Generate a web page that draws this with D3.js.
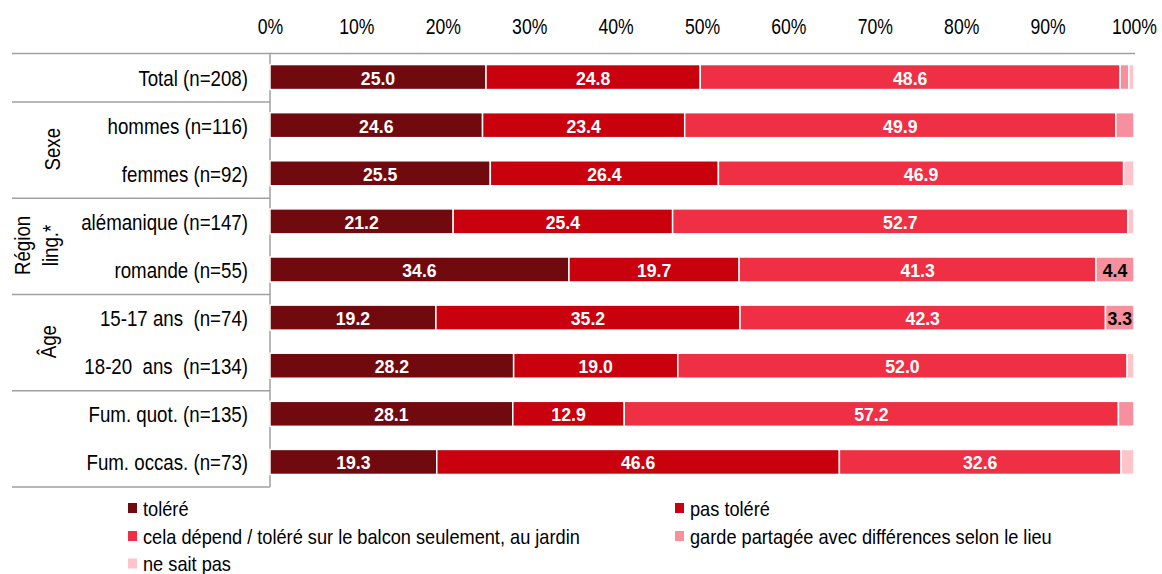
<!DOCTYPE html>
<html>
<head>
<meta charset="utf-8">
<script src="https://cdn.jsdelivr.net/npm/d3@7"></script>
<style>
  body { margin: 0; background: #fff; }
  text { font-family: "Liberation Sans", Arial, sans-serif; }
</style>
</head>
<body>
<div id="chart"></div>
<script>
var svgWidth = 1162;
var svgHeight = 574;

// categories (rows) and series values, in %
var categories = ["Total (n=208)", "hommes (n=116)", "femmes (n=92)", "alémanique (n=147)", "romande (n=55)",
  "15-17 ans  (n=74)", "18-20  ans  (n=134)", "Fum. quot. (n=135)", "Fum. occas. (n=73)"];
var tolere     = [25.0, 24.6, 25.5, 21.2, 34.6, 19.2, 28.2, 28.1, 19.3];
var pasTolere  = [24.8, 23.4, 26.4, 25.4, 19.7, 35.2, 19.0, 12.9, 46.6];
var celaDepend = [48.6, 49.9, 46.9, 52.7, 41.3, 42.3, 52.0, 57.2, 32.6];
var garde      = [1.0, 2.1, 0.0, 0.0, 4.4, 3.3, 0.0, 1.8, 0.0];
var neSaitPas  = [0.6, 0.0, 1.2, 0.7, 0.0, 0.0, 0.8, 0.0, 1.5];

var seriesNames = ["toléré", "pas toléré", "cela dépend / toléré sur le balcon seulement, au jardin",
  "garde partagée avec différences selon le lieu", "ne sait pas"];
var colors = ["#700a0f", "#c9000e", "#ef2f44", "#f7909c", "#fdc4ca"];
var tickValues = [0, 10, 20, 30, 40, 50, 60, 70, 80, 90, 100];

// row groups: label lines, first row, last row
var groups = [
  { lines: ["Sexe"], from: 1, to: 2, x: [60] },
  { lines: ["Région", "ling.*"], from: 3, to: 4, x: [30, 58] },
  { lines: ["Âge"], from: 5, to: 6, x: [56] }
];

var keys = ["tolere", "pasTolere", "celaDepend", "garde", "neSaitPas"];
var allSeries = [tolere, pasTolere, celaDepend, garde, neSaitPas];
var rows = categories.map(function(c, i) {
  var r = { cat: c };
  keys.forEach(function(k, j) { r[k] = allSeries[j][i]; });
  return r;
});

var stack = d3.stack().keys(keys)(rows);

var svg = d3.select("#chart").append("svg")
  .attr("width", svgWidth)
  .attr("height", svgHeight);

var x = d3.scaleLinear().domain([0, 100]).range([270, 1134]);
var y = d3.scaleBand().domain(categories).range([53, 486]).paddingInner(0.48).paddingOuter(0.24);

// top axis (condensed text, like Arial Narrow)
var xAxis = svg.append("g")
  .attr("transform", "translate(0, 34)")
  .call(d3.axisTop(x).tickValues(tickValues).tickFormat(d => d + "%").tickSize(0).tickPadding(0));
xAxis.select(".domain").remove();
xAxis.selectAll("text")
  .style("font-size", "22px")
  .attr("fill", "#000")
  .attr("y", 0)
  .attr("dy", 0)
  .attr("transform", "scale(0.8,1)");

// frame lines
var lineColor = "#a0a0a0";
svg.append("line")
  .attr("x1", 12).attr("x2", 1135).attr("y1", 53.5).attr("y2", 53.5)
  .attr("stroke", lineColor).attr("stroke-width", 1.5);
svg.append("line")
  .attr("x1", 270).attr("x2", 270).attr("y1", 53).attr("y2", 487)
  .attr("stroke", lineColor).attr("stroke-width", 1.5);

var sepIndex = [0, 2, 4, 6, 8];
svg.selectAll(".sep")
  .data(sepIndex)
  .enter()
  .append("line")
  .attr("class", "sep")
  .attr("x1", 12).attr("x2", 270)
  .attr("y1", d => y(categories[d]) + y.bandwidth() + y.step() * 0.26)
  .attr("y2", d => y(categories[d]) + y.bandwidth() + y.step() * 0.26)
  .attr("stroke", lineColor).attr("stroke-width", 1.5);

// category labels
svg.selectAll(".cat")
  .data(categories)
  .enter()
  .append("text")
  .attr("class", "cat")
  .attr("transform", d => `translate(248, ${y(d) + y.bandwidth() / 2 + 8.5}) scale(0.85,1)`)
  .attr("text-anchor", "end")
  .style("font-size", "22px")
  .style("white-space", "pre")
  .text(d => d);

// group labels (rotated)
groups.forEach(function(g) {
  var cy = (y(categories[g.from]) + y(categories[g.to]) + y.bandwidth()) / 2;
  g.lines.forEach(function(l, i) {
    svg.append("text")
      .attr("transform", `translate(${g.x[i]}, ${cy}) rotate(-90) scale(0.85,1)`)
      .attr("text-anchor", "middle")
      .style("font-size", "22px")
      .text(l);
  });
});

// bars
var layers = svg.selectAll(".layer")
  .data(stack)
  .enter()
  .append("g")
  .attr("class", "layer")
  .attr("fill", (d, i) => colors[i]);

layers.selectAll("rect")
  .data(d => d)
  .enter()
  .append("rect")
  .attr("x", d => x(d[0]))
  .attr("y", d => y(d.data.cat))
  .attr("width", d => Math.max(0, x(d[1]) - x(d[0])))
  .attr("height", y.bandwidth())
  .attr("stroke", "#fff")
  .attr("stroke-width", 1.5);

// value labels (only segments wide enough)
layers.selectAll(".val")
  .data(d => d.map(v => Object.assign(v, { key: d.key })))
  .enter()
  .filter(d => d[1] - d[0] >= 3)
  .append("text")
  .attr("class", "val")
  .attr("transform", d => `translate(${(x(d[0]) + x(d[1])) / 2}, ${y(d.data.cat) + y.bandwidth() / 2 + 7.5}) scale(0.93,1)`)
  .attr("text-anchor", "middle")
  .attr("fill", d => d.key === "garde" ? "#000" : "#fff")
  .style("font-size", "19px")
  .style("font-weight", "bold")
  .text(d => (d[1] - d[0]).toFixed(1));

// legend
var legendPos = [[128, 515.5], [675, 515.5], [128, 543.5], [675, 543.5], [128, 571]];
var legend = svg.selectAll(".legend")
  .data(seriesNames)
  .enter()
  .append("g")
  .attr("class", "legend")
  .attr("transform", (d, i) => `translate(${legendPos[i][0]}, ${legendPos[i][1]})`);

legend.append("rect")
  .attr("x", 0).attr("y", -12.5)
  .attr("width", 9).attr("height", 10)
  .attr("fill", (d, i) => colors[i]);

legend.append("text")
  .attr("transform", "translate(15, 0) scale(0.91,1)")
  .style("font-size", "20px")
  .text(d => d);
</script>
</body>
</html>
